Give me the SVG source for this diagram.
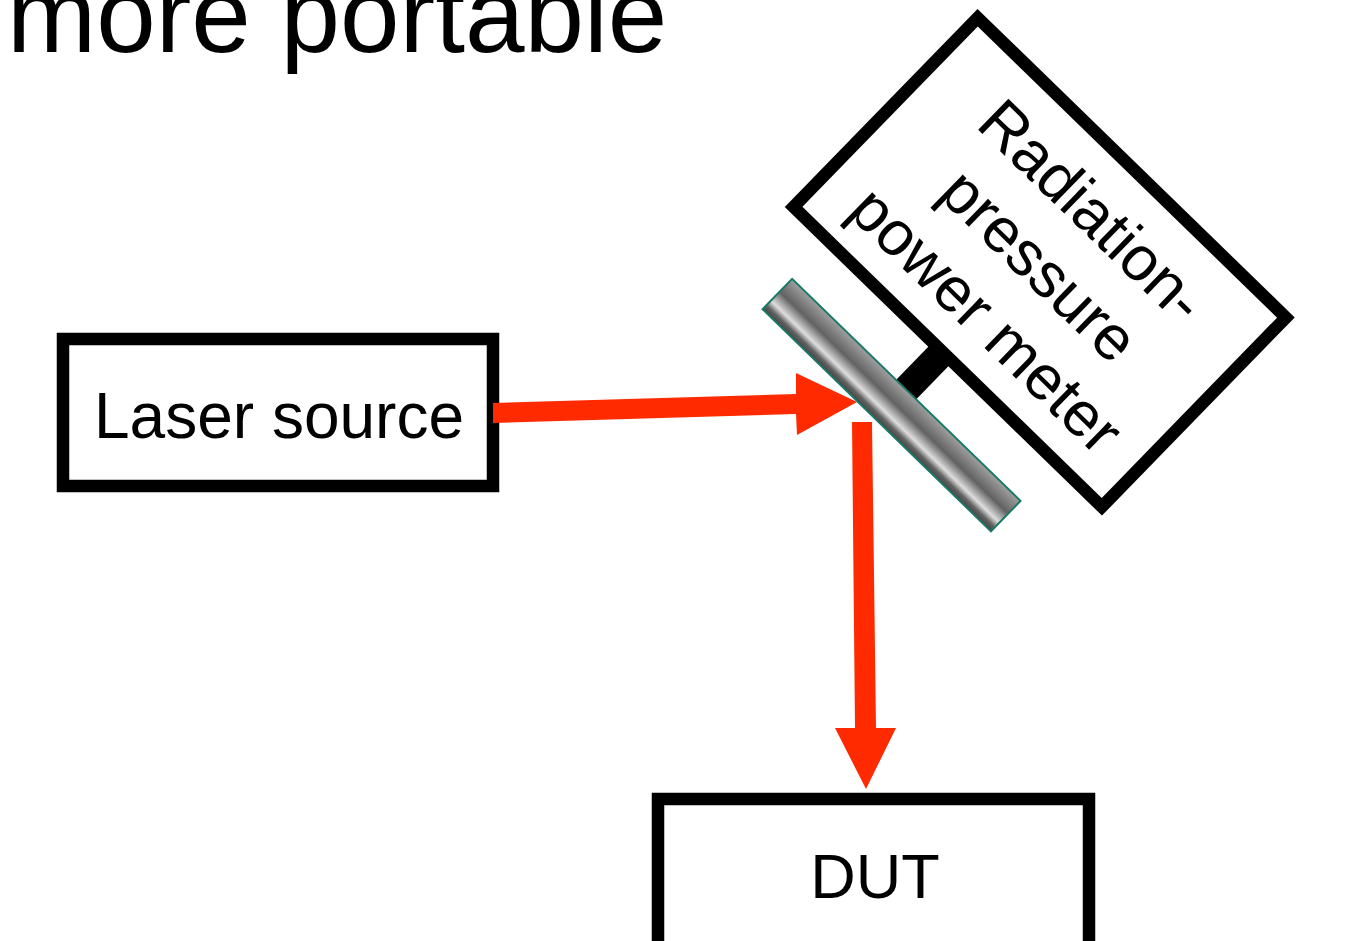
<svg xmlns="http://www.w3.org/2000/svg" width="1351" height="941" viewBox="0 0 1351 941">
  <style>
    .box { fill: #ffffff; stroke: #000000; stroke-width: 12.5; }
    .label { font-family: "Liberation Sans", Arial, sans-serif; font-size: 63px; fill: #000000; text-anchor: middle; }
    .big { font-size: 64px; }
    .title { font-family: "Liberation Sans", Arial, sans-serif; font-size: 107px; fill: #000000; }
    .beam { fill: #ff2a00; stroke: none; }
    .mirror { fill: url(#mirrorShade); stroke: #1a7a68; stroke-width: 2; }
  </style>
  <defs>
    <!-- shading across the mirror's thickness -->
    <linearGradient id="mirrorShade" x1="0" y1="0" x2="0" y2="1">
      <stop offset="0" stop-color="#a0a0a0"/>
      <stop offset="0.42" stop-color="#626262"/>
      <stop offset="0.72" stop-color="#dedede"/>
      <stop offset="0.87" stop-color="#626262"/>
      <stop offset="1" stop-color="#454545"/>
    </linearGradient>
  </defs>

  <rect width="1351" height="941" fill="#ffffff"/>

  <text class="title" x="7" y="52">more portable</text>

  <g id="laser-source">
    <rect class="box" x="63" y="339" width="430" height="147"/>
    <text class="label big" x="279" y="438">Laser source</text>
  </g>

  <g id="dut">
    <rect class="box" x="658" y="799" width="431" height="170"/>
    <text class="label" x="875" y="898">DUT</text>
  </g>

  <g id="beams">
    <polygon class="beam" points="493,403 796,394 796,373 857,402 797,435 796,414 493,423"/>
    <polygon class="beam" points="852,422 872,422 876,728 896,728 866,789 835,728 855,728"/>
  </g>

  <g id="power-meter" transform="translate(1039.75,262.25) rotate(44.2)">
    <rect class="box" x="-215" y="-132" width="430" height="264"/>
    <text class="label" x="2" y="-52">Radiation-</text>
    <text class="label" x="2" y="24">pressure</text>
    <text class="label" x="2" y="100">power meter</text>
    <!-- stem holding the mirror -->
    <rect x="-21" y="132" width="28" height="54" fill="#000000"/>
    <g id="mirror">
      <rect class="mirror" x="-166" y="184.5" width="318.6" height="42.4"/>
    </g>
  </g>
</svg>
